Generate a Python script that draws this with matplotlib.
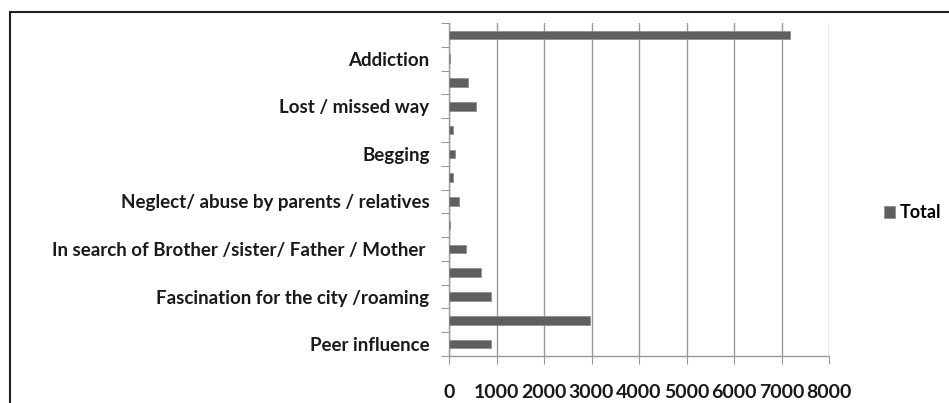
import numpy as np
import matplotlib
matplotlib.use('agg')
import matplotlib.pyplot as plt
from matplotlib.patches import Rectangle

## Data (bottom to top, as drawn); hidden labels left blank
labels = ["Peer influence", "", "Fascination for the city /roaming", "",
          "In search of Brother /sister/ Father / Mother ", "",
          "Neglect/ abuse by parents / relatives", "", "Begging", "",
          "Lost / missed way", "", "Addiction", ""]
totals = [884, 2970, 884, 667, 360, 15, 217, 90, 120, 90, 570, 400, 20, 7180]
xticks = [0, 1000, 2000, 3000, 4000, 5000, 6000, 7000, 8000]

plt.rcParams['font.family'] = ['Lato', 'DejaVu Sans']
plt.rcParams['font.weight'] = 'bold'

W, H = 949, 403
fig = plt.figure(figsize=(W/100, H/100), dpi=100)
ax = fig.add_axes([449/W, 1-356/H, 380/W, 333/H])

# outer chart border (cut off on the right and bottom)
fig.patches.append(Rectangle((10/W, -0.1), 1.1, 1-12/H+0.1, transform=fig.transFigure,
                             fill=False, edgecolor='#222222', linewidth=1.5))

y = np.arange(len(totals))
ax.barh(y, totals, height=0.36, color='#5f5f5f', edgecolor='#8a8a8a', linewidth=0.5,
        zorder=3, label='Total')

ax.set_xlim(0, 8000)
ax.set_ylim(-0.5, len(totals)-0.5)
ax.set_xticks(xticks)
ax.set_xticklabels([str(t) for t in xticks], fontsize=14, color='#1a1a1a')
ax.tick_params(axis='x', length=6, color='#999999', pad=14)
ax.grid(axis='x', color='#9a9a9a', linewidth=1.0, zorder=0)

# category boundaries carry the tick marks, labels in between
ax.set_yticks(np.arange(len(totals)+1) - 0.5)
ax.set_yticklabels([])
ax.set_yticks(y, minor=True)
ax.set_yticklabels(labels, minor=True, fontsize=13.5, color='#1a1a1a')
ax.tick_params(axis='y', which='major', length=6, color='#999999')
ax.tick_params(axis='y', which='minor', length=0, pad=14)

for s in ['top', 'right']:
    ax.spines[s].set_visible(False)
for s in ['left', 'bottom']:
    ax.spines[s].set_color('#999999')
    ax.spines[s].set_linewidth(1.0)

fig.legend(loc='center left', bbox_to_anchor=(884/W, 1-213/H), frameon=False,
           borderpad=0, borderaxespad=0,
           handlelength=0.6, handleheight=0.6, handletextpad=0.3,
           prop={'size': 13, 'weight': 'bold'})

plt.savefig('out.png', dpi=100)
